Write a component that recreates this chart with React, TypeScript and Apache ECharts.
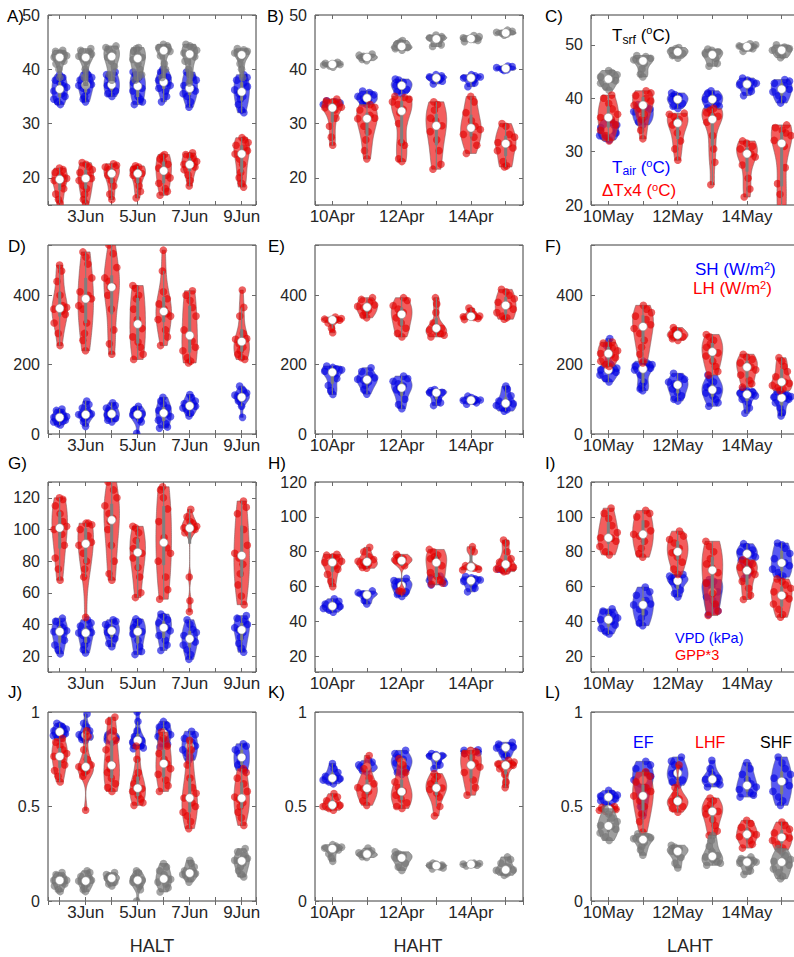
import React, { useEffect, useRef } from "react";
import * as echarts from "echarts";

// ---------------- categories / ticks ----------------
const DAYS_HALT = [2, 3, 4, 5, 6, 7, 9];
const DAYS_HAHT = [10, 11, 12, 13, 14, 15];
const DAYS_LAHT = [10, 11, 12, 13, 14, 15];
const LABEL_DAYS_HALT = [3, 5, 7, 9];
const LABEL_DAYS_HAHT = [10, 12, 14];
const LABEL_DAYS_LAHT = [10, 12, 14];
const MONTH_HALT = "Jun";
const MONTH_HAHT = "Apr";
const MONTH_LAHT = "May";
const SITE_NAMES = ["HALT", "HAHT", "LAHT"];
const PANEL_LETTERS = ["A)", "B)", "C)", "D)", "E)", "F)", "G)", "H)", "I)", "J)", "K)", "L)"];

// ---------------- Row 1: temperatures (°C) ----------------
const A_TAIR = [
  [39, 38.5, 38, 37.5, 37, 36.7, 36, 35.5, 35, 34.5, 34, 33.5],
  [39.5, 39, 38.5, 38, 37.5, 37.2, 37, 36.5, 36, 35, 34.5, 34],
  [39.5, 39, 38.5, 38, 37.3, 37, 36.5, 36, 35.5, 35],
  [39.5, 39, 38.5, 38, 37.5, 37.3, 36.5, 36, 35, 34.5, 34, 33.5],
  [40, 39.5, 39, 38.5, 38, 37.8, 37.5, 37, 36.5, 36, 35, 34],
  [39.5, 39, 38.5, 38, 37, 36.5, 36, 35.5, 35, 34, 33],
  [39, 38.5, 38, 37.5, 36.8, 36.2, 35.5, 35, 34.5, 33.5, 32.5, 32],
];
const A_TSRF = [
  [43.5, 43.3, 43, 42.8, 42.5, 42.2, 42, 41.5, 41, 40, 38.5],
  [43.8, 43.5, 43, 42.8, 42.4, 42, 41.5, 40, 38.5, 37],
  [44.3, 44, 43.5, 43, 42.5, 42.2, 41.5, 40.5, 39, 38],
  [44, 43.8, 43.3, 42.8, 42.2, 41.8, 41, 40, 39, 38],
  [44.6, 44.3, 44, 43.8, 43.6, 43.3, 42.5, 41, 40, 38.5],
  [44.6, 44.3, 44, 43.5, 43, 42.8, 42.3, 41.5, 40, 39, 37.5],
  [43.8, 43.6, 43.3, 43, 42.8, 42.5, 42, 41, 40, 38.5],
];
const A_DTX4 = [
  [21.8, 21.5, 21, 20.5, 20.2, 19.9, 19.5, 19, 18, 17, 16, 15.3],
  [22.8, 22.5, 22, 21.5, 21, 20.5, 19.9, 19.5, 18.5, 18, 17, 16, 15.3],
  [22.6, 22.3, 22, 21.5, 21, 20.8, 20.5, 19.5, 18.5, 17, 16],
  [22.2, 22, 21.8, 21.5, 21.1, 20.8, 20.5, 19.5, 18.5, 17.5, 16.3],
  [24.3, 24, 23.5, 23, 22.5, 21.8, 21.3, 20.5, 20, 19, 18, 17.5, 16.8],
  [24.6, 24.3, 24, 23.5, 23, 22.5, 22.4, 22, 21.5, 20.5, 19.5, 18.5],
  [27.4, 27, 26.5, 26, 25.5, 25, 24.4, 23.5, 22.5, 21, 20, 19, 18.3],
];
const B_TAIR = [
  [34.2, 34, 33.8, 33.5, 33.3, 33],
  [36, 35.7, 35.3, 35, 34.7, 34.5, 34.2, 33.8, 33.5],
  [38.2, 38, 37.6, 37.3, 37, 36.7, 36.3, 35.8, 35.5],
  [39, 38.8, 38.6, 38.4, 38.2, 37.8, 37.3],
  [39, 38.8, 38.6, 38.4, 38, 37.5, 36.8],
  [40.6, 40.5, 40.3, 40, 39.9, 39.8],
];
const B_TSRF = [
  [41.3, 41.1, 41, 40.9, 40.8, 40.6, 40.4],
  [42.8, 42.6, 42.4, 42.2, 42, 41.8, 41.6],
  [45.3, 45, 44.6, 44.2, 44, 43.8, 43.5],
  [46.3, 46, 45.8, 45.6, 45.3, 44.5, 44.2],
  [46.2, 46, 45.8, 45.5, 45.3, 45.1],
  [47.2, 47, 46.8, 46.6, 46.5, 46.3],
];
const B_DTX4 = [
  [34.5, 34.2, 34, 33.5, 33, 32.9, 32.5, 31, 29.5, 27.5, 26],
  [33.5, 33, 32.5, 31.5, 31, 30.9, 29.5, 28.5, 27, 25, 23.5],
  [35, 34.8, 34.5, 34, 33.5, 32.6, 32, 30, 26.5, 26, 23.5, 23],
  [34, 33.5, 32.5, 31, 30.5, 29.6, 28.5, 27, 25, 22.5, 21.6],
  [35, 34, 32, 30.5, 29.5, 28.9, 28, 27.5, 26, 24.5],
  [30, 29.5, 28, 27.5, 26.5, 26.3, 25.5, 25, 23, 22.2, 22],
];
const C_TAIR = [
  [36, 35.5, 35, 34.5, 34, 33.5, 33, 32.5, 32.2],
  [38.8, 38.3, 38, 37.5, 37, 36.5, 36, 35.5, 35],
  [41, 40.7, 40.3, 40, 39.8, 39.5, 39, 38.5, 38.1],
  [41.4, 41, 40.6, 40.2, 39.8, 39.5, 39, 38.5, 38.2],
  [43.8, 43.4, 43, 42.8, 42.5, 42, 41.3, 40.5],
  [43.5, 43.2, 42.8, 42.3, 41.7, 41.2, 40.5, 39.8, 39.1],
];
const C_TSRF = [
  [45.2, 44.8, 44.4, 44, 43.6, 43.3, 42.8, 42.2, 41.5],
  [48, 47.8, 47.5, 47.2, 47, 46.5, 45.5, 44.5, 44],
  [49.5, 49.3, 49, 48.7, 48.4, 48, 47.5],
  [49.2, 49, 48.7, 48.3, 48, 47.5, 46.5, 46],
  [50.2, 50, 49.8, 49.6, 49.3, 48.8],
  [50, 49.6, 49.3, 49, 48.6, 48, 47.6],
];
const C_DTX4 = [
  [40.6, 40, 39, 38, 37, 36.4, 36, 35, 34, 33, 32],
  [41.4, 41, 40.5, 40, 39.5, 38.7, 38, 37, 36, 34, 32.4],
  [37.2, 37, 36.5, 36, 35.7, 35, 33.5, 32, 30.5, 28.4],
  [38.1, 37.8, 37.3, 36.8, 36.6, 35.5, 33, 30.5, 28, 23.8],
  [32, 31.6, 31, 30.5, 30, 29.6, 29, 27.5, 25, 23, 21.5],
  [35, 34.5, 34, 33.5, 33, 32.1, 31, 27, 24, 22, 19, 17],
];

// ---------------- Row 2: sensible / latent heat (W/m2) ----------------
const D_SH = [
  [72, 68, 62, 55, 50, 48, 45, 40, 35, 30, 26],
  [95, 85, 75, 65, 58, 56, 55, 50, 45, 35, 22],
  [90, 82, 75, 68, 62, 58, 55, 50, 45, 40, 35],
  [80, 72, 68, 62, 58, 55, 50, 42, 35, 2],
  [106, 95, 85, 75, 68, 63, 58, 50, 40, 30, 20, 17],
  [114, 105, 95, 88, 82, 80, 75, 70, 60, 52],
  [138, 125, 118, 112, 108, 104, 100, 95, 80, 48],
];
const D_LH = [
  [487, 470, 440, 400, 370, 365, 360, 355, 345, 320, 290, 255],
  [525, 510, 490, 450, 410, 400, 390, 370, 360, 320, 290, 270, 240],
  [545, 520, 480, 450, 440, 425, 422, 400, 360, 300, 260, 230],
  [428, 420, 400, 390, 360, 330, 304, 280, 265, 250, 230, 215],
  [530, 470, 410, 390, 375, 360, 347, 340, 330, 300, 280, 255],
  [413, 400, 385, 365, 340, 300, 268, 250, 240, 220, 210, 205],
  [415, 365, 340, 290, 275, 273, 260, 250, 240, 230, 220, 215],
];
const E_SH = [
  [196, 192, 188, 185, 181, 175, 160, 140, 125, 114],
  [191, 180, 170, 162, 158, 155, 150, 140, 128, 115],
  [167, 160, 152, 145, 138, 133, 128, 120, 100, 85, 73],
  [128, 125, 122, 120, 119, 110, 100, 90, 82],
  [109, 105, 100, 98, 97, 95, 90, 86],
  [138, 130, 110, 95, 90, 87, 82, 75, 70, 66],
];
const E_LH = [
  [337, 333, 331, 330, 328, 320, 305, 292],
  [393, 388, 380, 372, 368, 364, 358, 350, 342, 335],
  [393, 385, 370, 360, 350, 345, 335, 320, 305, 290, 280],
  [393, 375, 350, 320, 310, 305, 300, 295, 290, 285, 280],
  [363, 355, 345, 340, 338, 336, 333, 330],
  [417, 410, 400, 390, 380, 371, 360, 350, 340, 335, 331],
];
const F_SH = [
  [275, 255, 230, 200, 190, 185, 183, 178, 170, 160, 150],
  [210, 205, 200, 196, 193, 190, 185, 170, 150, 140, 130, 125],
  [175, 165, 158, 150, 145, 143, 140, 130, 120, 110, 100, 95],
  [170, 160, 150, 140, 135, 130, 125, 118, 110, 100, 90, 80],
  [130, 126, 122, 118, 115, 114, 110, 100, 90, 75, 60],
  [123, 118, 112, 108, 106, 104, 100, 90, 75, 62, 52],
];
const F_LH = [
  [265, 262, 255, 248, 240, 232, 229, 220, 210, 200, 195],
  [371, 360, 350, 340, 330, 315, 304, 290, 270, 250, 230, 205],
  [307, 300, 295, 290, 286, 284, 280, 275, 270],
  [287, 280, 270, 260, 250, 240, 234, 225, 210, 195, 180, 170],
  [230, 222, 215, 205, 198, 193, 185, 170, 155, 145, 135],
  [220, 210, 195, 180, 165, 150, 146, 140, 135, 130, 125],
];

// ---------------- Row 3: VPD and GPP*3 ----------------
const G_VPD = [
  [44, 42, 40, 38, 36, 35.5, 34, 30, 27, 24, 21.5],
  [43, 41, 39, 37, 35, 34.7, 33, 30, 27, 24, 22],
  [43, 42, 40, 38, 37, 36, 35, 33, 31, 28, 26],
  [43.5, 42, 40, 38, 36, 35.5, 34, 30, 26, 23, 21],
  [46.6, 45, 43, 41, 39, 38, 36, 33, 30, 27, 23.6],
  [43, 40, 37, 35, 33, 31, 29, 27, 24, 21, 18],
  [45.6, 44, 42, 40, 38, 36.6, 35, 32, 28, 25, 22.5],
];
const G_GPP = [
  [120, 119, 115, 110, 105, 102, 100, 97, 90, 82, 75, 68],
  [104, 104, 103, 100, 96, 92, 90, 85, 80, 75, 70, 44.5],
  [130, 125, 120, 115, 110, 107, 105, 100, 90, 80, 72, 68],
  [102, 101, 98, 93, 88, 86, 85, 82, 76, 70, 60, 57],
  [127, 125, 120, 113, 105, 95, 88.5, 85, 80, 70, 62, 56],
  [112.7, 108, 105, 104, 102, 101, 100.7, 100, 98, 70, 55, 48],
  [118, 114, 110, 100, 90, 85, 82, 78, 72, 65, 58, 52.5],
];
const H_VPD = [
  [53, 51.5, 50, 49, 48.6, 47.5, 46.5, 45.3],
  [57.5, 56.5, 55.8, 55.2, 54, 52, 50],
  [64.8, 63.5, 62.5, 61.5, 61, 60, 58.5, 57, 55.5, 54.3],
  [66, 65, 64, 63, 62, 61],
  [65.7, 65, 64.5, 63.8, 63, 61, 59, 57],
  [70, 69.8, 69.5, 69.3],
];
const H_GPP = [
  [78.5, 78, 77, 76, 74.5, 73.9, 72, 70, 67, 63, 60],
  [82.5, 80, 77, 75.5, 74.5, 73.9, 73, 72, 71, 70.5],
  [78.5, 77, 76, 75, 74.9, 74, 72, 57.5, 57],
  [81.3, 80, 78, 77, 76, 75.6, 72, 68, 66, 64, 62, 61.3],
  [82.9, 80, 72, 70.5, 70, 69.5],
  [86.7, 85, 80, 76, 74, 72.8, 71, 70, 69.5, 69, 68.6],
];
const I_VPD = [
  [47.2, 46, 45, 43.5, 42, 41, 40, 38, 36, 34, 32.8],
  [59.7, 57, 55, 52, 50, 49.5, 47, 45, 42, 39, 37.6],
  [67, 66, 65, 64, 63.5, 63, 61, 58, 56, 54],
  [64, 63, 62.5, 62, 60, 57, 54, 52, 49, 46, 44],
  [84.6, 83, 81, 80, 79, 78.8, 77, 75, 72, 68, 64.8],
  [85, 84, 82, 79, 76, 73.6, 72, 70, 68, 66, 65.4],
];
const I_GPP = [
  [105, 102, 99, 95, 91, 88, 87.8, 86, 83, 80, 78.2],
  [103.7, 102, 100, 96, 92, 90, 89, 86, 82, 79, 76.9],
  [91.8, 89, 87, 85, 82, 80, 79.4, 77, 74, 70, 67],
  [86, 83, 80, 76, 73, 70.8, 68, 62, 56, 50, 46, 43.4],
  [75.4, 74, 73, 71, 70, 69.2, 67, 63, 59, 55, 52.6],
  [64.4, 63, 61, 59, 57, 54.9, 53, 50, 47, 44, 42.4],
];

// ---------------- Row 4: evaporative fractions ----------------
const J_EF = [
  [0.94, 0.93, 0.92, 0.91, 0.9, 0.89, 0.885, 0.875, 0.865, 0.86],
  [0.99, 0.94, 0.92, 0.9, 0.88, 0.876, 0.87, 0.86, 0.855, 0.85],
  [0.89, 0.88, 0.87, 0.86, 0.85, 0.84],
  [1.0, 0.95, 0.9, 0.87, 0.86, 0.85, 0.84, 0.83, 0.82, 0.81, 0.806],
  [0.95, 0.93, 0.92, 0.9, 0.89, 0.88, 0.87, 0.85, 0.83, 0.815],
  [0.898, 0.88, 0.86, 0.84, 0.82, 0.8, 0.78, 0.76, 0.745],
  [0.832, 0.82, 0.8, 0.78, 0.76, 0.74, 0.72, 0.7, 0.69],
];
const J_LHF = [
  [0.86, 0.84, 0.82, 0.8, 0.78, 0.765, 0.75, 0.72, 0.69, 0.66, 0.63],
  [0.9, 0.87, 0.8, 0.75, 0.72, 0.71, 0.7, 0.69, 0.68, 0.66, 0.48],
  [0.973, 0.95, 0.9, 0.85, 0.8, 0.75, 0.718, 0.7, 0.68, 0.65, 0.62, 0.6, 0.58],
  [0.82, 0.75, 0.68, 0.65, 0.62, 0.6, 0.594, 0.58, 0.56, 0.54, 0.52, 0.506],
  [0.894, 0.86, 0.82, 0.78, 0.75, 0.727, 0.7, 0.67, 0.64, 0.61, 0.58],
  [0.85, 0.8, 0.72, 0.65, 0.6, 0.57, 0.545, 0.52, 0.5, 0.47, 0.45, 0.42, 0.383],
  [0.7, 0.68, 0.65, 0.62, 0.58, 0.55, 0.538, 0.52, 0.5, 0.47, 0.44, 0.4],
];
const J_SHF = [
  [0.15, 0.14, 0.13, 0.12, 0.11, 0.109, 0.1, 0.09, 0.08, 0.06, 0.05],
  [0.16, 0.15, 0.13, 0.12, 0.11, 0.106, 0.1, 0.09, 0.08, 0.06, 0.05],
  [0.15, 0.14, 0.13, 0.125, 0.122, 0.12, 0.11, 0.1, 0.09, 0.08],
  [0.16, 0.15, 0.13, 0.12, 0.115, 0.11, 0.1, 0.09, 0.08, 0.06, 0.0],
  [0.198, 0.18, 0.16, 0.14, 0.12, 0.115, 0.1, 0.09, 0.07, 0.048],
  [0.215, 0.2, 0.18, 0.16, 0.15, 0.145, 0.14, 0.13, 0.12, 0.1],
  [0.277, 0.26, 0.24, 0.225, 0.215, 0.212, 0.2, 0.18, 0.16, 0.14, 0.127],
];
const K_EF = [
  [0.727, 0.7, 0.68, 0.66, 0.65, 0.647, 0.64, 0.63, 0.62],
  [0.744, 0.735, 0.72, 0.71, 0.709, 0.7, 0.69, 0.683],
  [0.797, 0.78, 0.76, 0.75, 0.74, 0.73, 0.72, 0.7, 0.68, 0.67],
  [0.78, 0.775, 0.77, 0.767, 0.76, 0.74, 0.72, 0.7],
  [0.8, 0.797, 0.79, 0.785, 0.78],
  [0.84, 0.83, 0.82, 0.815, 0.81, 0.79, 0.77, 0.76],
];
const K_LHF = [
  [0.568, 0.55, 0.53, 0.51, 0.506, 0.5, 0.49, 0.48],
  [0.77, 0.7, 0.65, 0.62, 0.6, 0.594, 0.58, 0.56, 0.53, 0.506],
  [0.753, 0.72, 0.68, 0.63, 0.6, 0.58, 0.577, 0.56, 0.54, 0.52, 0.5, 0.49],
  [0.674, 0.66, 0.64, 0.62, 0.6, 0.598, 0.59, 0.57, 0.55, 0.5, 0.45],
  [0.797, 0.79, 0.78, 0.76, 0.73, 0.709, 0.68, 0.64, 0.6, 0.56],
  [0.744, 0.735, 0.725, 0.72, 0.718, 0.7, 0.67, 0.63, 0.6],
];
const K_SHF = [
  [0.298, 0.29, 0.285, 0.28, 0.277, 0.27, 0.25, 0.23, 0.21],
  [0.28, 0.265, 0.255, 0.25, 0.247, 0.24, 0.235, 0.23],
  [0.26, 0.25, 0.24, 0.235, 0.228, 0.22, 0.2, 0.18, 0.162],
  [0.2, 0.195, 0.19, 0.189, 0.185, 0.18, 0.175, 0.17],
  [0.2, 0.198, 0.195, 0.194, 0.19, 0.186],
  [0.233, 0.22, 0.2, 0.18, 0.165, 0.162, 0.155, 0.145, 0.136],
];
const L_EF = [
  [0.585, 0.57, 0.56, 0.555, 0.55, 0.54, 0.53, 0.51, 0.5],
  [0.739, 0.72, 0.7, 0.68, 0.66, 0.64, 0.62, 0.6, 0.55, 0.5, 0.45],
  [0.762, 0.74, 0.72, 0.7, 0.68, 0.674, 0.66, 0.64, 0.63, 0.612],
  [0.744, 0.7, 0.67, 0.65, 0.644, 0.64, 0.63, 0.615, 0.603],
  [0.732, 0.7, 0.67, 0.64, 0.62, 0.603, 0.59, 0.575, 0.56, 0.55],
  [0.762, 0.73, 0.7, 0.67, 0.65, 0.633, 0.61, 0.58, 0.55, 0.53, 0.506],
];
const L_LHF = [
  [0.5, 0.495, 0.49, 0.485, 0.48, 0.475, 0.47],
  [0.683, 0.66, 0.63, 0.6, 0.58, 0.556, 0.53, 0.5, 0.46, 0.42, 0.365],
  [0.72, 0.6, 0.56, 0.54, 0.53, 0.527, 0.52, 0.5, 0.49, 0.47],
  [0.545, 0.53, 0.51, 0.49, 0.48, 0.474, 0.46, 0.43, 0.4, 0.37, 0.347],
  [0.427, 0.41, 0.39, 0.37, 0.355, 0.351, 0.34, 0.32, 0.3, 0.28],
  [0.418, 0.4, 0.38, 0.36, 0.34, 0.333, 0.32, 0.3, 0.28, 0.27],
];
const L_SHF = [
  [0.488, 0.46, 0.44, 0.42, 0.4, 0.395, 0.38, 0.36, 0.34, 0.32],
  [0.356, 0.345, 0.335, 0.33, 0.325, 0.31, 0.29, 0.27, 0.242],
  [0.295, 0.285, 0.275, 0.265, 0.263, 0.25, 0.23, 0.2, 0.175],
  [0.347, 0.32, 0.29, 0.26, 0.24, 0.233, 0.22, 0.21, 0.2, 0.189],
  [0.233, 0.225, 0.215, 0.21, 0.206, 0.2, 0.18, 0.16, 0.141],
  [0.277, 0.26, 0.24, 0.22, 0.21, 0.206, 0.19, 0.17, 0.15, 0.13, 0.118],
];

// ---------------- styles / layout ----------------
const FONT = "'Liberation Sans', Arial, Helvetica, sans-serif";
const TICK_COLOR = "#262626";
const RED = { fill: "rgba(238,30,30,0.72)", dot: "rgba(225,0,0,0.62)", edge: "rgba(120,90,90,0.8)" };
const BLUE = { fill: "rgba(25,25,235,0.72)", dot: "rgba(0,0,225,0.62)", edge: "rgba(90,90,130,0.8)" };
const GRAY = { fill: "rgba(128,128,128,0.76)", dot: "rgba(115,115,115,0.65)", edge: "rgba(110,110,110,0.9)" };
const JITTER = [0.15, -0.75, 0.55, -0.35, 0.9, -0.05, -0.9, 0.4, -0.55, 0.75, 0.05, -0.2, 0.3, -0.65];
const HALF_WIDTH = 0.3;

const COLS = [
  { left: 48, days: DAYS_HALT, labels: LABEL_DAYS_HALT, month: MONTH_HALT, xmin: 1.55, xmax: 9.55 },
  { left: 315, days: DAYS_HAHT, labels: LABEL_DAYS_HAHT, month: MONTH_HAHT, xmin: 9.5, xmax: 15.5 },
  { left: 591, days: DAYS_LAHT, labels: LABEL_DAYS_LAHT, month: MONTH_LAHT, xmin: 9.5, xmax: 15.5 },
];
const ROWS = [
  { top: 15, height: 190 },
  { top: 245, height: 189 },
  { top: 482, height: 190 },
  { top: 712, height: 189 },
];
const PANELS = [
  { row: 0, col: 0, y: [15, 50, 10], series: [[A_TAIR, BLUE], [A_TSRF, GRAY], [A_DTX4, RED]] },
  { row: 0, col: 1, y: [15, 50, 10], series: [[B_TAIR, BLUE], [B_TSRF, GRAY], [B_DTX4, RED]] },
  { row: 0, col: 2, y: [20, 55.6, 10], series: [[C_TAIR, BLUE], [C_TSRF, GRAY], [C_DTX4, RED]] },
  { row: 1, col: 0, y: [0, 545, 200], series: [[D_SH, BLUE], [D_LH, RED]] },
  { row: 1, col: 1, y: [0, 545, 200], series: [[E_SH, BLUE], [E_LH, RED]] },
  { row: 1, col: 2, y: [0, 545, 200], series: [[F_SH, BLUE], [F_LH, RED]] },
  { row: 2, col: 0, y: [10, 130, 20], series: [[G_VPD, BLUE], [G_GPP, RED]] },
  { row: 2, col: 1, y: [11, 120, 20], series: [[H_VPD, BLUE], [H_GPP, RED]] },
  { row: 2, col: 2, y: [11, 120, 20], series: [[I_VPD, BLUE], [I_GPP, RED]] },
  { row: 3, col: 0, y: [0, 1, 0.5], series: [[J_EF, BLUE], [J_LHF, RED], [J_SHF, GRAY]] },
  { row: 3, col: 1, y: [0, 1, 0.5], series: [[K_EF, BLUE], [K_LHF, RED], [K_SHF, GRAY]] },
  { row: 3, col: 2, y: [0, 1, 0.5], series: [[L_EF, BLUE], [L_LHF, RED], [L_SHF, GRAY]] },
];
const LETTER_POS = [
  [7, 16], [267, 16], [545, 16],
  [8, 246], [268, 246], [545, 246],
  [8, 463], [268, 463], [545, 463],
  [8, 692], [268, 692], [545, 692],
];
const SITE_POS = [[152, 946], [418, 946], [690, 946]];

// ---------------- violin statistics ----------------
function quantile(sorted: number[], p: number) {
  const pos = (sorted.length - 1) * p;
  const lo = Math.floor(pos);
  const hi = Math.ceil(pos);
  return sorted[lo] + (sorted[hi] - sorted[lo]) * (pos - lo);
}

function profile(samples: number[]) {
  const s = [...samples].sort((a, b) => a - b);
  const n = s.length;
  const med = quantile(s, 0.5);
  const dev = s.map((v) => Math.abs(v - med)).sort((a, b) => a - b);
  let sig = quantile(dev, 0.5) / 0.6745;
  if (!(sig > 0)) {
    const mean = s.reduce((a, b) => a + b, 0) / n;
    sig = Math.sqrt(s.reduce((a, b) => a + (b - mean) * (b - mean), 0) / Math.max(1, n - 1)) || 1e-3;
  }
  const bw = sig * Math.pow(4 / (3 * n), 0.2);
  const N = 60;
  const vals: number[] = [];
  const dens: number[] = [];
  for (let k = 0; k < N; k++) {
    const v = s[0] + ((s[n - 1] - s[0]) * k) / (N - 1);
    let d = 0;
    for (const x of s) d += Math.exp(-0.5 * ((v - x) / bw) * ((v - x) / bw));
    vals.push(v);
    dens.push(d);
  }
  const dmax = Math.max(...dens);
  const hw = dens.map((d) => (d / dmax) * HALF_WIDTH);
  const q1 = quantile(s, 0.25);
  const q3 = quantile(s, 0.75);
  const iqr = q3 - q1;
  const lowW = s.find((v) => v >= q1 - 1.5 * iqr) ?? s[0];
  const highW = [...s].reverse().find((v) => v <= q3 + 1.5 * iqr) ?? s[n - 1];
  return { s, vals, hw, med, q1, q3, lowW, highW };
}

function hwAt(p: ReturnType<typeof profile>, v: number) {
  const { vals, hw } = p;
  if (vals[vals.length - 1] === vals[0]) return hw[0];
  const t = ((v - vals[0]) / (vals[vals.length - 1] - vals[0])) * (vals.length - 1);
  const i = Math.max(0, Math.min(vals.length - 2, Math.floor(t)));
  const f = t - i;
  return hw[i] + (hw[i + 1] - hw[i]) * f;
}

function violinSeries(samples: number[][], days: number[], color: any, gridIdx: number) {
  const profs = samples.map(profile);
  return {
    type: "custom",
    xAxisIndex: gridIdx * 2,
    yAxisIndex: gridIdx * 2,
    clip: true,
    encode: { x: 0, y: 1 },
    data: days.map((d, i) => [d, profs[i].med]),
    renderItem: (params: any, api: any) => {
      const idx = params.dataIndex;
      const day = api.value(0);
      const p = profs[idx];
      const right = p.vals.map((v, k) => api.coord([day + p.hw[k], v]));
      const left = p.vals.map((v, k) => api.coord([day - p.hw[k], v])).reverse();
      const children: any[] = [];
      children.push({
        type: "polygon",
        shape: { points: right.concat(left) },
        style: { fill: color.fill, stroke: color.edge, lineWidth: 0.7 },
      });
      p.s.forEach((v, j) => {
        const jit = JITTER[(j * 3 + idx * 5) % JITTER.length];
        const pt = api.coord([day + jit * hwAt(p, v), v]);
        children.push({ type: "circle", shape: { cx: pt[0], cy: pt[1], r: 3.8 }, style: { fill: color.dot } });
      });
      const w1 = api.coord([day, p.highW]);
      const w2 = api.coord([day, p.lowW]);
      children.push({
        type: "line",
        shape: { x1: w1[0], y1: w1[1], x2: w2[0], y2: w2[1] },
        style: { stroke: "#7f7f7f", lineWidth: 1.1 },
      });
      const b1 = api.coord([day, p.q3]);
      const b2 = api.coord([day, p.q1]);
      children.push({
        type: "rect",
        shape: { x: b1[0] - 1.5, y: b1[1], width: 3, height: Math.max(0.5, b2[1] - b1[1]) },
        style: { fill: "#7f7f7f" },
      });
      const m = api.coord([day, p.med]);
      children.push({
        type: "circle",
        shape: { cx: m[0], cy: m[1], r: 4.2 },
        style: { fill: "#ffffff", stroke: "#8c8c8c", lineWidth: 0.6 },
      });
      return { type: "group", children };
    },
  };
}

function buildOption() {
  const grid: any[] = [];
  const xAxis: any[] = [];
  const yAxis: any[] = [];
  const series: any[] = [];
  const tickBase = { show: true, inside: true, length: 4, lineStyle: { color: "#6a6a6a", width: 1 } };
  PANELS.forEach((pn, gi) => {
    const col = COLS[pn.col];
    const row = ROWS[pn.row];
    grid.push({
      left: col.left,
      top: row.top,
      width: 208,
      height: row.height,
      show: true,
      borderColor: "#3c3c3c",
      borderWidth: 1,
      backgroundColor: "#ffffff",
      containLabel: false,
      outerBoundsMode: "none",
    });
    const xCommon = {
      type: "value",
      gridIndex: gi,
      min: col.xmin,
      max: col.xmax,
      minInterval: 1,
      maxInterval: 1,
      axisLine: { show: false },
      axisTick: tickBase,
      splitLine: { show: false },
    };
    xAxis.push({
      ...xCommon,
      position: "bottom",
      axisLabel: {
        show: true,
        fontSize: 17,
        fontFamily: FONT,
        color: TICK_COLOR,
        margin: 3,
        formatter: (v: number) =>
          Math.abs(v - Math.round(v)) < 1e-6 && col.labels.includes(Math.round(v)) ? `${Math.round(v)}${col.month}` : "",
      },
    });
    xAxis.push({ ...xCommon, position: "top", axisLabel: { show: false } });
    const [ymin, ymax, step] = pn.y;
    const yCommon = {
      type: "value",
      gridIndex: gi,
      min: ymin,
      max: ymax,
      minInterval: step,
      maxInterval: step,
      axisLine: { show: false },
      axisTick: tickBase,
      splitLine: { show: false },
    };
    yAxis.push({
      ...yCommon,
      position: "left",
      axisLabel: {
        show: true,
        fontSize: 16,
        fontFamily: FONT,
        color: TICK_COLOR,
        margin: 8,
        formatter: (v: number) => {
          const r = v / step;
          return Math.abs(r - Math.round(r)) < 1e-6 ? String(Math.round(v * 100) / 100) : "";
        },
      },
    });
    yAxis.push({ ...yCommon, position: "right", axisLabel: { show: false } });
    pn.series.forEach(([samples, color]: any) => {
      series.push(violinSeries(samples, col.days, color, gi));
    });
  });

  const graphic: any[] = [];
  PANEL_LETTERS.forEach((t, i) => {
    graphic.push({
      type: "text",
      x: LETTER_POS[i][0],
      y: LETTER_POS[i][1],
      z: 100,
      style: { text: t, fontSize: 17, fontFamily: FONT, fill: "#000", textAlign: "left", textVerticalAlign: "middle" },
    });
  });
  SITE_NAMES.forEach((t, i) => {
    graphic.push({
      type: "text",
      x: SITE_POS[i][0],
      y: SITE_POS[i][1],
      z: 100,
      style: { text: t, fontSize: 18, fontFamily: FONT, fill: TICK_COLOR, textAlign: "center", textVerticalAlign: "middle" },
    });
  });
  const rich = (size: number, color: string, lh: number, slh: number) => ({
    n: { fontSize: size, fontFamily: FONT, fill: color, color, lineHeight: lh, verticalAlign: "middle" },
    sub: { fontSize: size * 0.72, fontFamily: FONT, fill: color, color, lineHeight: slh, verticalAlign: "bottom" },
    sup: { fontSize: size * 0.65, fontFamily: FONT, fill: color, color, lineHeight: slh, verticalAlign: "top" },
  });
  const legendText = (x: number, y: number, text: string, size: number, color: string, lh = 22, slh = 12) => ({
    type: "text",
    x,
    y,
    z: 100,
    style: { text, rich: rich(size, color, lh, slh), fontSize: size, fontFamily: FONT, fill: color, textAlign: "left", textVerticalAlign: "middle" },
  });
  graphic.push(legendText(612, 35, "{n|T}{sub|srf}{n| (}{sup|o}{n|C)}", 17, "#000000"));
  graphic.push(legendText(612, 167, "{n|T}{sub|air}{n| (}{sup|o}{n|C)}", 17, "#0000ff", 20, 11));
  graphic.push(legendText(602, 190, "{n|ΔTx4 (}{sup|o}{n|C)}", 17, "#ff0000", 18, 9));
  graphic.push(legendText(695, 269, "{n|SH (W/m}{sup|2}{n|)}", 17, "#0000ff", 17, 8));
  graphic.push(legendText(693, 288, "{n|LH (W/m}{sup|2}{n|)}", 17, "#ff0000", 17, 8));
  graphic.push({
    type: "text", x: 675, y: 638, z: 100,
    style: { text: "VPD (kPa)", fontSize: 14.5, fontFamily: FONT, fill: "#0000ff", textAlign: "left", textVerticalAlign: "middle" },
  });
  graphic.push({
    type: "text", x: 675, y: 655, z: 100,
    style: { text: "GPP*3", fontSize: 14.5, fontFamily: FONT, fill: "#ff0000", textAlign: "left", textVerticalAlign: "middle" },
  });
  graphic.push({
    type: "text", x: 633, y: 742, z: 100,
    style: { text: "EF", fontSize: 16, fontFamily: FONT, fill: "#0000ff", textAlign: "left", textVerticalAlign: "middle" },
  });
  graphic.push({
    type: "text", x: 695, y: 742, z: 100,
    style: { text: "LHF", fontSize: 16, fontFamily: FONT, fill: "#ff0000", textAlign: "left", textVerticalAlign: "middle" },
  });
  graphic.push({
    type: "text", x: 760, y: 742, z: 100,
    style: { text: "SHF", fontSize: 16, fontFamily: FONT, fill: "#000000", textAlign: "left", textVerticalAlign: "middle" },
  });

  return {
    animation: false,
    backgroundColor: "#ffffff",
    textStyle: { fontFamily: FONT },
    grid,
    xAxis,
    yAxis,
    series,
    graphic,
  };
}

export default function App() {
  const ref = useRef<HTMLDivElement>(null);
  useEffect(() => {
    if (!ref.current) return;
    const chart = echarts.init(ref.current, undefined, { renderer: "svg", width: 794, height: 957 });
    chart.setOption(buildOption() as any);
    return () => chart.dispose();
  }, []);
  return (
    <div
      ref={ref}
      style={{ position: "absolute", left: 0, top: 0, width: 794, height: 957, background: "#fff", overflow: "hidden" }}
    />
  );
}
